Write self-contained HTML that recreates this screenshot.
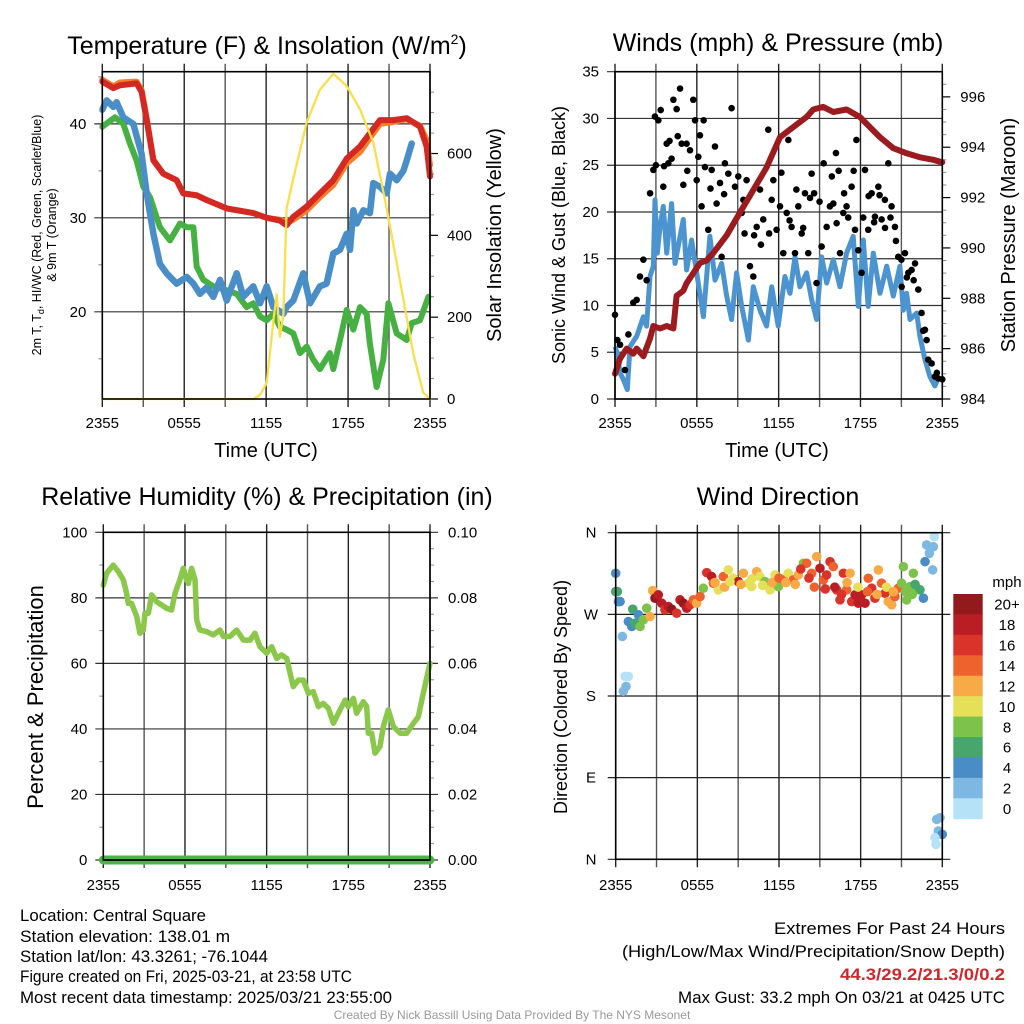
<!DOCTYPE html>
<html><head><meta charset="utf-8"><style>
html,body{margin:0;padding:0;background:#fff;}
svg{display:block;font-family:"Liberation Sans",Arial,sans-serif;}
</style></head><body>
<svg id="fig" width="1024" height="1024" viewBox="0 0 1024 1024" xmlns="http://www.w3.org/2000/svg">
<rect width="1024" height="1024" fill="#fff"/>
<text x="267" y="54" font-size="25" text-anchor="middle">Temperature (F) &amp; Insolation (W/m<tspan font-size="14" dy="-10">2</tspan><tspan dy="10">)</tspan></text>
<text x="778" y="51" font-size="25" text-anchor="middle">Winds (mph) &amp; Pressure (mb)</text>
<text x="267" y="505" font-size="25" text-anchor="middle">Relative Humidity (%) &amp; Precipitation (in)</text>
<text x="778" y="505" font-size="25" text-anchor="middle">Wind Direction</text>
<g id="content"></g>
<g font-size="16.5">
<text x="20" y="921" textLength="186" lengthAdjust="spacingAndGlyphs">Location: Central Square</text>
<text x="20" y="942" textLength="210" lengthAdjust="spacingAndGlyphs">Station elevation: 138.01 m</text>
<text x="20" y="962" textLength="248" lengthAdjust="spacingAndGlyphs">Station lat/lon: 43.3261; -76.1044</text>
<text x="20" y="982" textLength="332" lengthAdjust="spacingAndGlyphs">Figure created on Fri, 2025-03-21, at 23:58 UTC</text>
<text x="20" y="1003" textLength="372" lengthAdjust="spacingAndGlyphs">Most recent data timestamp: 2025/03/21 23:55:00</text>
</g>
<g font-size="16.5">
<text x="774" y="934" textLength="231" lengthAdjust="spacingAndGlyphs">Extremes For Past 24 Hours</text>
<text x="622" y="957" textLength="383" lengthAdjust="spacingAndGlyphs">(High/Low/Max Wind/Precipitation/Snow Depth)</text>
<text x="840" y="980" fill="#d0282a" font-weight="bold" textLength="165" lengthAdjust="spacingAndGlyphs">44.3/29.2/21.3/0/0.2</text>
<text x="678" y="1003" textLength="327" lengthAdjust="spacingAndGlyphs">Max Gust: 33.2 mph On 03/21 at 0425 UTC</text>
</g>
<text x="512" y="1019" font-size="12" fill="#999" text-anchor="middle">Created By Nick Bassill Using Data Provided By The NYS Mesonet</text>
</svg>
<script>
// ---- Temperature panel data (hours since 2355) ----
const tempHours=[0,.81,1.29,2.51,2.88,3.25,3.74,4.47,5.44,5.93,6.91,7.64,9.11,11.06,12.04,13.01,13.5,13.99,14.97,15.94,16.92,17.9,18.87,19.6,20.34,21.31,22.29,23.27,23.75,24];
const tempRed=[44.5,43.8,44.1,44.3,43.4,40.4,36.1,34.7,34,32.6,32.4,31.9,31.0,30.5,30.0,29.7,29.2,30.1,31.2,32.6,34.0,36.3,37.6,39.0,40.4,40.4,40.6,39.7,37.6,34.4];
const tempOrange=[44.7,44.0,44.4,44.5,43.6,40.6,36.2,34.7,34,32.6,32.4,31.9,31.0,30.5,30.0,29.8,29.5,29.8,30.8,32.2,33.5,35.8,37.0,38.5,40.0,40.2,40.5,39.8,38.3,35.6];
const blueHours=[0,.32,.81,1.05,1.54,2.27,2.88,3.25,3.74,4.22,4.71,5.44,6.18,6.67,7.15,7.64,8.13,8.62,9.11,9.84,10.33,11.06,11.55,12.04,12.52,13.26,13.5,13.99,14.72,15.21,15.94,16.43,16.92,17.41,17.9,18.14,18.38,18.63,19.12,19.6,19.85,20.34,20.83,21.07,21.56,22.05,22.29,22.66];
const blueVals=[41.5,42.5,41.8,42.3,40.7,40,36.8,32.6,28.3,25.1,24.1,23,23.7,23,21.9,22.6,21.6,23.4,21.2,24.1,21.6,22.7,20.9,22.7,20.5,19.8,20.5,21.2,24.1,20.9,22.7,23,26.2,26.6,28.3,26.6,30.8,29.4,30.8,30.5,33.7,33.3,32.6,34.7,34,35,36.1,37.9];
const greenHours=[0,.93,1.54,2.03,2.51,3.0,3.49,4.22,4.96,5.69,6.18,6.67,6.91,7.4,8.13,9.11,9.84,10.57,11.06,11.55,12.04,12.52,13.01,13.5,13.99,14.48,14.97,15.45,15.94,16.67,16.92,17.41,17.9,18.38,18.87,19.36,19.6,20.09,20.58,20.95,21.56,22.29,22.66,23.27,23.88];
const greenVals=[39.7,40.7,40,37.9,36.1,33.3,32.2,29,27.6,29.4,29,29,24.8,23.4,22.7,22.3,21.9,20.5,20.9,19.5,19.1,19.8,18.4,18.1,17.7,15.6,16.3,14.9,13.9,15.6,13.9,17,20.2,18.1,20.5,19.8,16.6,12,14.9,20.9,17.7,17,18.8,19.1,21.6];
const solarHours=[0,11.06,11.55,12.04,12.52,12.77,13.01,13.26,13.5,13.99,14.97,15.94,16.92,17.9,18.87,19.85,20.83,21.8,22.78,23.51,24];
const solarVals=[0,0,10,39,190,256,152,208,466,539,676,756,795,765,708,627,466,289,111,15,0];
const tempTicks=[20,30,40];
const solarTicks=[0,200,400,600];
const timeLabels=["2355","0555","1155","1755","2355"];
// ---- Wind panel data ----
const presHours=[0,.37,.86,1.34,1.59,2.08,2.57,2.81,3.3,3.79,4.28,4.52,5.01,5.25,5.74,6.23,6.72,7.21,8.19,9.16,10.14,11.12,12.1,13.07,14.05,14.54,15.27,16.01,16.98,17.96,18.69,19.43,20.41,21.38,22.36,23.34,24];
const presVals=[985.0,985.6,986.0,985.8,986.0,985.7,986.4,986.9,986.8,986.9,986.8,988.1,988.3,988.6,989.0,989.4,989.5,989.8,990.5,991.4,992.3,993.2,994.4,994.8,995.2,995.5,995.6,995.4,995.5,995.2,994.8,994.4,993.96,993.76,993.6,993.5,993.4];
const windHours=[0,.17,.37,.61,.9,1.1,1.59,2.08,2.32,2.57,2.81,2.93,3.1,3.3,3.54,3.79,4.15,4.4,4.77,5.01,5.25,5.62,5.99,6.48,6.96,7.33,7.82,8.19,8.55,8.92,9.29,9.78,10.14,10.63,11.12,11.49,11.97,12.46,12.83,13.2,13.56,14.05,14.42,14.78,15.15,15.52,16.01,16.5,16.98,17.47,17.84,18.21,18.57,18.94,19.43,19.92,20.41,20.89,21.14,21.38,21.63,22.12,22.36,22.73,23.09,23.46,23.75];
const windVals=[5.6,4.9,2.8,2.1,1.0,5.6,6.7,8.8,7.8,13.1,14.2,21.3,15.6,18.4,20.6,15.6,20.9,14.5,17.4,19.2,13.8,17,13.5,8.8,17.4,12.7,14.5,11,8.5,13.5,9.9,6.3,12,9.5,7.8,12,7.8,13.1,11.3,15.2,12,13.5,10.6,8.5,15.2,12.4,14.9,12,15.6,17.4,9.9,17,9.9,15.6,11.3,14.2,11,14.2,9.5,11.3,8.5,9.2,6.7,4.2,2.4,1.4,2.4];
const gustHours=[0,.17,.37,.73,.98,1.34,1.59,1.83,2.08,2.32,2.57,2.81,2.93,3.18,3.35,3.54,3.79,3.91,4.15,4.28,4.52,4.77,4.89,5.01,5.25,5.5,5.74,5.87,5.99,6.11,6.23,6.35,6.6,6.84,7.09,7.33,7.45,7.7,7.82,8.06,8.31,8.55,8.8,9.04,9.29,9.41,9.65,9.9,10.14,10.39,10.63,10.87,11.24,11.49,11.61,11.85,12.1,12.34,12.59,12.71,12.95,13.2,13.44,13.69,13.93,14.17,14.42,14.78,15.15,15.52,15.76,16.01,16.25,16.5,16.74,16.98,17.35,17.6,17.84,18.08,18.33,18.57,18.82,19.06,19.31,19.55,19.79,20.04,20.28,20.53,20.77,21.02,21.26,21.51,21.75,22,22.24,22.48,22.73,22.85,22.97,23.22,23.46,23.7,24,3.0,3.6,4.0,4.6,5.3,6.5,7.0,8.0,9.5,10.2,10.7,11.3,12.2,12.8,13.3,13.8,14.3,14.6,15.0,15.3,15.9,16.2,16.4,16.8,17.1,17.5,17.7,18.2,18.6,19.0,19.4,19.8,20.2,20.6,21.0,21.4,21.9,22.6,23.6];
const gustVals=[9.0,6.3,5.8,3.1,6.9,10.3,10.6,13.1,14.9,12.7,22,24.5,30.2,29.8,30.9,22.7,27.3,25.2,25.7,32,31,33.2,27.3,22.9,27.3,26.6,32,29.8,23.4,25.9,28.2,20.6,24.8,18.1,24.5,27,20.9,23.1,15.2,25.2,24.1,31.1,22.7,23.8,19.9,21.3,23.4,14.2,13.1,18.4,22.4,19.2,28.8,21.3,23.4,18.1,20.6,15.6,19.9,27.7,18.4,15.6,20.6,17.7,22,15.6,24.1,12.4,16.3,18.4,20.6,20.9,18.8,15.6,19.9,20.6,22.7,18.1,15.9,13.5,24.5,18.1,22,19.5,22.7,19.2,21.3,25.2,20.6,18.4,15.2,12,15.6,13.5,13.8,14.5,11.7,9.2,7.4,6.3,4.2,3.8,2.4,2.2,2.1,25,24.9,27.6,28.1,24.4,29.8,22.5,21.9,17.7,17.5,16.5,17.7,24.2,19.1,22.4,18.3,21.5,22.0,21.1,25.2,23.8,26.3,24.4,22.0,19.4,24.4,27.7,19.4,21.7,18.9,21.8,18.3,19.4,16.9,14.9,13.0,12.7,7.3,2.8];
const windTicks=[0,5,10,15,20,25,30,35];
const presTicks=[984,986,988,990,992,994,996];
// ---- RH panel data ----
const rhHours=[0,.24,.73,1.1,1.47,1.71,1.84,2.08,2.45,2.69,2.94,3.06,3.31,3.55,3.92,4.29,4.65,5.02,5.27,5.63,5.88,6.12,6.25,6.49,6.74,6.86,7.1,7.59,8.08,8.57,8.82,9.31,9.8,10.29,10.78,11.14,11.51,12,12.37,12.74,13.1,13.47,13.72,13.96,14.33,14.7,15.06,15.43,15.8,16.16,16.53,16.9,17.27,17.76,18,18.37,18.61,19.1,19.35,19.47,19.72,19.96,20.33,20.57,20.94,21.31,21.8,22.29,22.78,23.14,23.51,24];
const rhVals=[83.9,87.5,90,88,85.5,81.4,78.3,78.3,74.3,69.2,70.2,75.3,75.3,80.9,78.8,77.8,76.8,76.3,81.4,85.5,89,85.5,84.4,89,85.5,73.2,70.2,69.7,68.7,70.2,68.2,68.2,70.2,67.1,67.1,69.2,65.1,63.1,65.1,61.5,62.6,61.5,57,52.9,54.9,54.9,50.9,51.4,46.8,47.8,46.3,41.7,44.8,48.8,46.8,49.3,44.8,48.3,46.8,38.7,38.7,32.6,34.6,40.7,45.8,40.7,38.7,38.7,41.7,43.7,50.9,60];
const precipHours=[0,24];
const precipVals=[0,0];
const rhTicks=[0,20,40,60,80,100];
const precipTicks=["0.00","0.02","0.04","0.06","0.08","0.10"];
// ---- Wind direction data ----
const dirHours=[0,0,0.12,0.2,0.32,0.49,0.69,0.93,0.76,0.56,1.25,0.93,1.18,1.42,1.67,1.79,2.03,2.28,2.52,2.72,2.89,3.13,3.38,3.62,3.87,4.11,4.48,4.73,4.97,5.22,5.46,5.71,5.95,6.2,6.44,6.69,7.05,7.18,7.54,7.91,8.28,8.65,9.01,9.38,9.75,9.99,10.36,10.6,10.97,11.34,11.71,11.95,12.32,12.68,13.05,13.42,13.79,14.03,14.4,14.77,15.01,15.26,15.5,15.75,15.99,16.24,16.48,16.73,16.97,17.22,17.34,17.59,17.83,18.07,18.32,18.56,18.81,19.05,19.3,19.54,19.79,20.03,20.28,20.52,20.77,21.01,21.14,21.38,21.63,21.87,22.12,22.36,22.61,22.73,22.85,23.05,23.29,23.34,23.41,23.59,23.83,23.71,24,23.46,23.54,7.3,8.0,8.4,9.2,10.0,10.8,11.5,12.0,12.5,13.2,13.6,14.2,14.6,15.4,16.1,16.6,17.0,17.8,18.5,19.2,19.9,20.4,21.3,21.8,22.0];
const dirDeg=[315.3,295.1,295.1,284.1,284.1,245.6,201.6,201.6,190.6,185.2,275.7,262.1,256.6,260.3,269.5,256.6,264,276.8,267.6,296.2,287.8,291.5,282.3,275,278.6,275.7,271.3,286,282.3,276.8,280.5,286,282.3,289.6,298.8,316,311.6,304.3,297,311.6,319,309.8,306.1,315.3,304.3,300.6,317.1,311.6,306.1,297,313.5,300.6,308,315.3,308,313.5,326.3,326.3,315.3,333.6,320.8,308,313.5,328.1,322.6,297,286,315.3,297,315.3,284.1,291.5,282.3,291.5,282.3,309.8,298.8,287.8,319,304.3,293.3,284.1,280.5,289.6,298.8,304.3,322.6,286,300.6,315.3,298.8,297,287.8,328.1,346.5,337.3,319,344.6,355.6,44,45.8,31.2,27.5,23.8,16.5,305,300,306,303,309,302,305,310,305,303,320,310,300,298,300,292,305,300,295,292,300,295,295,292,303];
const dirSpd=[4,6,6,4,4,2,0,0,2,2,6,4,4,6,4,8,8,8,12,12,20,18,18,16,18,20,16,18,20,18,16,14,12,14,8,16,18,14,10,14,10,10,18,12,10,10,12,10,8,10,10,8,14,10,14,12,8,14,14,12,18,14,16,16,14,16,16,16,14,12,16,18,18,18,18,14,16,16,12,14,16,12,12,14,14,8,8,8,8,8,8,6,4,4,2,2,2,2,0,2,2,2,4,0,0,12,12,10,12,10,10,12,14,12,12,16,16,14,16,18,16,12,10,14,12,10,12,8,8,6];
const dirTicks=[0,90,180,270,360];
const dirTickLabels=["N","E","S","W","N"];
const speedBins=[0,2,4,6,8,10,12,14,16,18,20];
const speedLabels=["0","2","4","6","8","10","12","14","16","18","20+"];
const speedColors=["#b5e2f6","#7cb8e2","#4a8dc6","#47a66c","#7dc24b","#e6df58","#f7aa46","#ee622d","#da3329","#bb1d24","#921a1c"];

const NS="http://www.w3.org/2000/svg";
const root=document.getElementById('content');
function mk(tag,attrs,parent){const e=document.createElementNS(NS,tag);for(const k in attrs)e.setAttribute(k,attrs[k]);(parent||root).appendChild(e);return e;}
function txt(s,attrs,parent){const e=mk('text',attrs,parent);e.textContent=s;return e;}

function makePanel(name,L,R,T,B,yMin,yMax){
  const g=mk('g',{});
  
  
  const sx=h=>L+h/24*(R-L);
  const sy=v=>B-(v-yMin)/(yMax-yMin)*(B-T);
  for(let i=0;i<=8;i++){const x=sx(i*3);
    mk('line',{x1:x,x2:x,y1:T-8,y2:B+8,stroke:(i%2?'#555':'#222'),'stroke-width':1.4},g);}
  return {g,sx,sy,L,R,T,B};
}
function frame(p){mk('rect',{x:p.L,y:p.T,width:p.R-p.L,height:p.B-p.T,fill:'none',stroke:'#000','stroke-width':1.6},p.g);}
function xLabels(p,yy){
  timeLabels.forEach((s,i)=>{const t=txt(s,{x:p.sx(i*6),y:yy,'font-size':15,'text-anchor':'middle'},p.g);
    
    });
}
function pathD(xs,ys,sx,sy){return xs.map((h,i)=>(i?'L':'M')+sx(h).toFixed(1)+','+sy(ys[i]).toFixed(1)).join('');}

// ===== Panel 1 Temperature =====
(function(){
  const p=makePanel('temperature-panel',102.3,430,71.7,399,10.72,45.55);
  const sSol=v=>399-v/800*(399-71.7);
  tempTicks.forEach(v=>{const y=p.sy(v);mk('line',{x1:p.L-8,x2:p.R,y1:y,y2:y,stroke:'#333','stroke-width':1.2},p.g);
    txt(String(v),{x:p.L-16,y:y+5,'font-size':15,'text-anchor':'end'},p.g);});
  [15,25,35,45].forEach(v=>{const y=p.sy(v);mk('line',{x1:p.L-4,x2:p.L,y1:y,y2:y,stroke:'#888'},p.g);});
  solarTicks.forEach(v=>{const y=sSol(v);mk('line',{x1:p.R,x2:p.R+8,y1:y,y2:y,stroke:'#000','stroke-width':1.2},p.g);
    txt(String(v),{x:p.R+17,y:y+5,'font-size':15},p.g);});
  [50,100,150,250,300,350,450,500,550,650,700,750].forEach(v=>{const y=sSol(v);mk('line',{x1:p.R,x2:p.R+4,y1:y,y2:y,stroke:'#888'},p.g);});
  const cp=mk('clipPath',{id:'c1'},p.g);mk('rect',{x:p.L-3,y:p.T-2,width:p.R-p.L+6,height:p.B-p.T+4},cp);
  const lg=mk('g',{'clip-path':'url(#c1)'},p.g);
  const ln=(xs,ys,col,w,nm,sy)=>{const e=mk('path',{d:pathD(xs,ys,p.sx,sy||p.sy),fill:'none',stroke:col,'stroke-width':w,'stroke-linejoin':'round','stroke-linecap':'round'},lg);
    };
  ln(greenHours,greenVals,'#47b042',6,'green-line');
  ln(blueHours,blueVals,'#4a8ec8',6.5,'blue-line');
  ln(tempHours,tempOrange,'#f47e2a',6,'orange-line');
  ln(tempHours,tempRed,'#d42823',6,'red-line');
  ln(solarHours,solarVals,'#f9e04b',2.3,'solar-line',sSol);
  frame(p);
  xLabels(p,428);
  txt('Time (UTC)',{x:266,y:457,'font-size':20,'text-anchor':'middle'},p.g);
  txt('2m T, T',{x:0,y:0,'font-size':12.5,'text-anchor':'middle',transform:'translate(41,235) rotate(-90)'},p.g).innerHTML='2m T, T<tspan font-size="9" dy="3">d</tspan><tspan dy="-3">, HI/WC (Red, Green, Scarlet/Blue)</tspan>';
  txt('& 9m T (Orange)',{x:0,y:0,'font-size':12.5,'text-anchor':'middle',transform:'translate(56,235) rotate(-90)'},p.g);
  txt('Solar Insolation (Yellow)',{x:0,y:0,'font-size':20,'text-anchor':'middle',transform:'translate(501,235) rotate(-90)'},p.g);
})();

// ===== Panel 2 Winds =====
(function(){
  const p=makePanel('wind-panel',615,942.3,71.7,399,0,35);
  const sP=v=>399-(v-984)/13*(399-71.7);
  windTicks.forEach(v=>{const y=p.sy(v);mk('line',{x1:p.L-8,x2:p.R,y1:y,y2:y,stroke:'#333','stroke-width':1.2},p.g);
    txt(String(v),{x:p.L-16,y:y+5,'font-size':15,'text-anchor':'end'},p.g);});
  presTicks.forEach(v=>{const y=sP(v);mk('line',{x1:p.R,x2:p.R+8,y1:y,y2:y,stroke:'#000','stroke-width':1.2},p.g);
    txt(String(v),{x:p.R+18,y:y+5,'font-size':15},p.g);});
  for(let v=984.5;v<997;v+=0.5){if(v%2){const y=sP(v);mk('line',{x1:p.R,x2:p.R+4,y1:y,y2:y,stroke:'#888'},p.g);}}
  const wl=mk('path',{d:pathD(windHours,windVals,p.sx,p.sy),fill:'none',stroke:'#4c94cf','stroke-width':5,'stroke-linejoin':'round'},p.g);
  
  
  gustHours.forEach((h,i)=>{const c=mk('circle',{cx:p.sx(h),cy:p.sy(gustVals[i]),r:3.3,fill:'#000'},p.g);
    
    });
  const pl=mk('path',{d:pathD(presHours,presVals,p.sx,sP),fill:'none',stroke:'#9b1b1e','stroke-width':6,'stroke-linejoin':'round','stroke-linecap':'round'},p.g);
  
  
  frame(p);
  xLabels(p,428);
  txt('Time (UTC)',{x:777,y:457,'font-size':20,'text-anchor':'middle'},p.g);
  txt('Sonic Wind & Gust (Blue, Black)',{x:0,y:0,'font-size':18,'text-anchor':'middle',transform:'translate(565,235) rotate(-90)'},p.g);
  txt('Station Pressure (Maroon)',{x:0,y:0,'font-size':20,'text-anchor':'middle',transform:'translate(1015,235) rotate(-90)'},p.g);
})();

// ===== Panel 3 RH =====
(function(){
  const p=makePanel('humidity-panel',103.3,430,532.3,860,0,100);
  rhTicks.forEach((v,i)=>{const y=p.sy(v);mk('line',{x1:p.L-8,x2:p.R+8,y1:y,y2:y,stroke:'#333','stroke-width':1.2},p.g);
    txt(String(v),{x:p.L-16,y:y+5,'font-size':15,'text-anchor':'end'},p.g);
    txt(precipTicks[i],{x:p.R+18,y:y+5,'font-size':15},p.g);});
  for(let v=10;v<100;v+=20){const y=p.sy(v);mk('line',{x1:p.L-4,x2:p.L,y1:y,y2:y,stroke:'#888'},p.g);}
  for(let v=5;v<100;v+=5){if(v%20){const y=p.sy(v);mk('line',{x1:p.R,x2:p.R+4,y1:y,y2:y,stroke:'#888'},p.g);}}
  const sPr=v=>p.B-v/0.1*(p.B-p.T);
  const pr=mk('path',{d:pathD(precipHours,precipVals,p.sx,sPr),fill:'none',stroke:'#4bb548','stroke-width':9,'stroke-linecap':'round'},p.g);
  
  
  const rl=mk('path',{d:pathD(rhHours,rhVals,p.sx,p.sy),fill:'none',stroke:'#8bc74a','stroke-width':5.5,'stroke-linejoin':'round','stroke-linecap':'round'},p.g);
  
  
  frame(p);
  mk('line',{x1:p.L,x2:p.R,y1:p.B,y2:p.B,stroke:'#000','stroke-width':1.6},p.g);
  xLabels(p,890);
  txt('Percent & Precipitation',{x:0,y:0,'font-size':22,'text-anchor':'middle',transform:'translate(43,697) rotate(-90)'},p.g);
})();

// ===== Panel 4 Wind Direction =====
(function(){
  const p=makePanel('direction-panel',615.7,942.3,532.7,859.3,0,360);
  dirTicks.forEach((v,i)=>{const y=p.sy(v);mk('line',{x1:p.L-8,x2:p.R+8,y1:y,y2:y,stroke:'#222','stroke-width':1.2},p.g);
    txt(dirTickLabels[i],{x:591,y:y+5,'font-size':15,'text-anchor':'middle'},p.g);});
  const colorFor=s=>{let k=0;speedBins.forEach((b,i)=>{if(s>=b)k=i;});return speedColors[k];};
  dirHours.forEach((h,i)=>{const c=mk('circle',{cx:p.sx(h),cy:p.sy(dirDeg[i]),r:4.8,fill:colorFor(dirSpd[i])},p.g);
    
    });
  frame(p);
  xLabels(p,890);
  txt('Direction (Colored By Speed)',{x:0,y:0,'font-size':18,'text-anchor':'middle',transform:'translate(567,697) rotate(-90)'},p.g);
  const cb=mk('g',{},root);
  
  
  const top=594,bot=818.7,h=(bot-top)/speedBins.length;
  for(let i=0;i<speedBins.length;i++){const k=speedBins.length-1-i;
    mk('rect',{x:953.3,y:top+i*h,width:29.4,height:h+0.5,fill:speedColors[k]},cb);
    txt(speedLabels[k],{x:1007,y:top+i*h+h/2+5.5,'font-size':15,'text-anchor':'middle'},cb);}
  txt('mph',{x:1007,y:587,'font-size':15,'text-anchor':'middle'},cb);
})();
</script>
</body></html>
